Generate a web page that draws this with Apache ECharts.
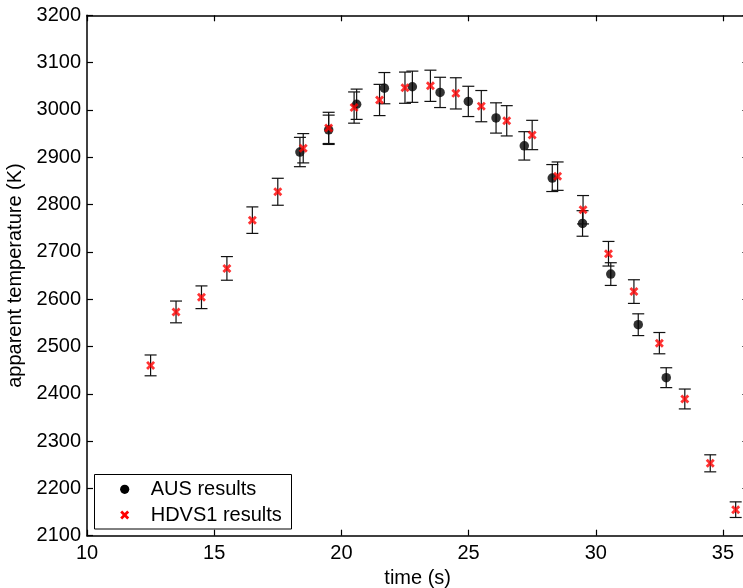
<!DOCTYPE html>
<html>
<head>
<meta charset="utf-8">
<script src="https://cdn.jsdelivr.net/npm/echarts@6/dist/echarts.min.js"></script>
<style>
html,body{margin:0;padding:0;background:#fff;}
#chart{width:743px;height:588px;}
</style>
</head>
<body>
<div id="chart"></div>
<script>
// AUS results
var ausX = [18.37, 19.5, 20.6, 21.69, 22.79, 23.88, 24.99, 26.08, 27.19, 28.29, 29.48, 30.59, 31.67, 32.77];
var ausY = [2911, 2958, 3012, 3046, 3049, 3037, 3018, 2983, 2924, 2856, 2760, 2653, 2546, 2434];
var ausErr = [31, 31, 32, 33, 33, 32, 32, 32, 30, 28.5, 27, 24, 23, 21];

// HDVS1 results
var hdvsX = [12.5, 13.5, 14.5, 15.5, 16.5, 17.5, 18.5, 19.5, 20.5, 21.5, 22.5, 23.5, 24.5, 25.5, 26.5, 27.5, 28.5, 29.5, 30.5, 31.5, 32.5, 33.5, 34.5, 35.5];
var hdvsY = [2460, 2573, 2604, 2665, 2767, 2827, 2919, 2962, 3005, 3021, 3047, 3051, 3035, 3008, 2977, 2947, 2860, 2789, 2696, 2616, 2507, 2389, 2253, 2155];
var hdvsErr = [22, 23, 24, 25, 28, 28.5, 31, 33, 33, 33, 33, 33, 33, 33, 32, 31, 30, 30, 26, 25, 22.5, 21, 18, 16.5];

var seriesNames = ['AUS results', 'HDVS1 results'];
var xTicks = [10, 15, 20, 25, 30, 35];
var yTicks = [2100, 2200, 2300, 2400, 2500, 2600, 2700, 2800, 2900, 3000, 3100, 3200];

function zip3(a, b, c) {
  var out = [];
  for (var i = 0; i < a.length; i++) out.push([a[i], b[i], c[i]]);
  return out;
}
function zip2(a, b) {
  var out = [];
  for (var i = 0; i < a.length; i++) out.push([a[i], b[i]]);
  return out;
}

function errRender(params, api) {
  var x = api.value(0), y = api.value(1), e = api.value(2);
  var top = api.coord([x, y + e]);
  var bot = api.coord([x, y - e]);
  var hw = 6;
  var st = { stroke: '#111', lineWidth: 1.2 };
  return {
    type: 'group',
    children: [
      { type: 'line', shape: { x1: top[0], y1: top[1], x2: bot[0], y2: bot[1] }, style: st },
      { type: 'line', shape: { x1: top[0] - hw, y1: top[1], x2: top[0] + hw, y2: top[1] }, style: st },
      { type: 'line', shape: { x1: bot[0] - hw, y1: bot[1], x2: bot[0] + hw, y2: bot[1] }, style: st }
    ]
  };
}

var xShape = [[0,2.2],[2.2,0],[5,2.8],[7.8,0],[10,2.2],[7.2,5],[10,7.8],[7.8,10],[5,7.2],[2.2,10],[0,7.8],[2.8,5]];
var xPath = 'path://M' + xShape.map(function (p) { return p[0] + ',' + p[1]; }).join('L') + 'Z';
function xPolygon(cx, cy, size) {
  var s = size / 10;
  return xShape.map(function (p) { return [cx - size / 2 + p[0] * s, cy - size / 2 + p[1] * s]; });
}

var font = "'Liberation Sans', Arial, Helvetica, sans-serif";
var axisLineStyle = { show: true, lineStyle: { color: '#000', width: 1.5 } };
var tickStyle = { show: true, inside: true, length: 6, lineStyle: { color: '#000', width: 1.2 } };

var chart = echarts.init(document.getElementById('chart'), null, { renderer: 'canvas' });
chart.setOption({
  animation: false,
  backgroundColor: '#fff',
  textStyle: { fontFamily: font },
  grid: { left: 87, top: 15.3, width: 661.4, height: 520.4, containLabel: false, outerBoundsMode: 'none' },
  xAxis: [
    {
      type: 'value', min: 10, max: 36, interval: 5, position: 'bottom',
      name: 'time (s)', nameLocation: 'middle', nameGap: 26,
      nameTextStyle: { fontSize: 20, color: '#000', fontFamily: font },
      axisLine: axisLineStyle, axisTick: tickStyle, splitLine: { show: false },
      axisLabel: {
        fontSize: 20, color: '#000', fontFamily: font, margin: 8,
        formatter: function (v) { return xTicks.indexOf(v) >= 0 ? String(v) : ''; }
      }
    },
    {
      type: 'value', min: 10, max: 36, interval: 5, position: 'top',
      axisLine: axisLineStyle, axisTick: tickStyle, splitLine: { show: false },
      axisLabel: { show: false }
    }
  ],
  yAxis: [
    {
      type: 'value', min: 2100, max: 3200, interval: 100, position: 'left',
      name: 'apparent temperature (K)', nameLocation: 'middle', nameGap: 47, nameRotate: 90,
      nameTextStyle: { fontSize: 20, color: '#000', fontFamily: font },
      axisLine: axisLineStyle, axisTick: tickStyle, splitLine: { show: false },
      axisLabel: {
        fontSize: 20, color: '#000', fontFamily: font, margin: 6,
        formatter: function (v) { return yTicks.indexOf(v) >= 0 ? String(v) : ''; }
      }
    },
    {
      type: 'value', min: 2100, max: 3200, interval: 100, position: 'right',
      axisLine: axisLineStyle, axisTick: tickStyle, splitLine: { show: false },
      axisLabel: { show: false }
    }
  ],
  legend: { show: false },
  graphic: [
    {
      type: 'rect', z: 100,
      shape: { x: 94.5, y: 474.5, width: 197, height: 54.5 },
      style: { fill: '#fff', stroke: '#000', lineWidth: 1 }
    },
    {
      type: 'circle', z: 101,
      shape: { cx: 124.7, cy: 489.3, r: 4.6 },
      style: { fill: '#000' }
    },
    {
      type: 'text', z: 101, x: 150.7, y: 489.3,
      style: { text: seriesNames[0], font: '20px ' + font, fill: '#000', verticalAlign: 'middle', align: 'left' }
    },
    {
      type: 'polygon', z: 101,
      shape: { points: xPolygon(124.7, 515, 9) },
      style: { fill: '#ff0000' }
    },
    {
      type: 'text', z: 101, x: 150.7, y: 515,
      style: { text: seriesNames[1], font: '20px ' + font, fill: '#000', verticalAlign: 'middle', align: 'left' }
    }
  ],
  series: [
    {
      type: 'custom', name: 'AUS err', renderItem: errRender, z: 1,
      data: zip3(ausX, ausY, ausErr), encode: { x: 0, y: 1 }, silent: true
    },
    {
      type: 'scatter', name: seriesNames[0], data: zip2(ausX, ausY), z: 2,
      symbol: 'circle', symbolSize: 9.5, itemStyle: { color: '#000' }
    },
    {
      type: 'custom', name: 'HDVS1 err', renderItem: errRender, z: 3,
      data: zip3(hdvsX, hdvsY, hdvsErr), encode: { x: 0, y: 1 }, silent: true
    },
    {
      type: 'scatter', name: seriesNames[1], data: zip2(hdvsX, hdvsY), z: 4,
      symbol: xPath, symbolSize: 9, itemStyle: { color: '#ff0000' }
    }
  ]
});
</script>
</body>
</html>
